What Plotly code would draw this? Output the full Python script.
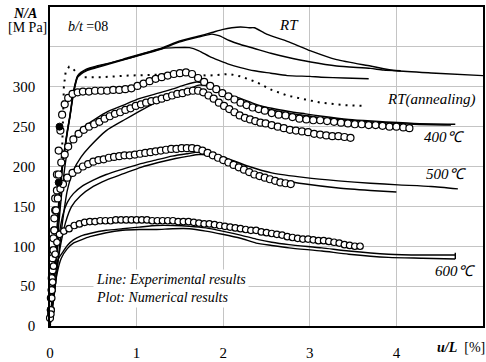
import plotly.graph_objects as go

# ---------------- experimental lines ----------------
rt1_x = [0, 0.04, 0.08, 0.11, 0.14, 0.17, 0.2, 0.23, 0.27, 0.32, 0.42, 0.54, 0.7, 0.92, 1.15, 1.3, 1.49, 1.7, 1.87, 2.0, 2.1, 2.2, 2.3, 2.36, 2.5, 2.74, 3.01, 3.31, 3.7, 4.0, 4.46, 5.0]
rt1_y = [0, 60, 120, 170, 200, 223, 245, 264, 294, 314, 322, 326, 330, 337, 344, 349, 357, 363, 368, 372, 374, 375, 374, 374, 366, 357, 345, 334, 326, 320, 317, 314]
rt2_x = [0, 0.04, 0.08, 0.11, 0.14, 0.17, 0.2, 0.23, 0.27, 0.32, 0.42, 0.54, 0.7, 0.92, 1.15, 1.3, 1.49, 1.7, 1.87, 1.95, 2.07, 2.2, 2.36, 2.55, 2.74, 3.01, 3.31, 3.7, 3.85, 4.05]
rt2_y = [0, 55, 115, 165, 198, 222, 244, 263, 292, 313, 321, 325, 330, 336, 343, 348, 356, 362, 366, 364, 358, 353, 348, 342, 337, 331, 326, 323, 321, 320]
rt3_x = [0, 0.04, 0.08, 0.11, 0.14, 0.17, 0.2, 0.23, 0.27, 0.32, 0.42, 0.54, 0.7, 0.92, 1.1, 1.3, 1.45, 1.61, 1.72, 1.84, 1.95, 2.07, 2.2, 2.36, 2.55, 2.74, 3.0, 3.13, 3.4, 3.68]
rt3_y = [0, 50, 110, 160, 195, 220, 242, 262, 290, 312, 320, 324, 329, 336, 342, 348, 349, 349, 345, 338, 333, 328, 324, 320, 317, 314, 313, 312, 311, 310]
ann_x = [0, 0.05, 0.1, 0.14, 0.15, 0.16, 0.18, 0.22, 0.27, 0.31, 0.38, 0.6, 0.9, 1.2, 1.5, 1.84, 2.07, 2.2, 2.38, 2.56, 2.74, 2.95, 3.13, 3.4, 3.64]
ann_y = [0, 60, 140, 220, 260, 300, 318, 325, 322, 317, 312, 312, 314, 315, 316, 314, 316, 313, 306, 296, 289, 284, 280, 277, 276]
l400a_x = [0, 0.04, 0.08, 0.12, 0.16, 0.2, 0.27, 0.34, 0.46, 0.65, 0.85, 1.03, 1.22, 1.41, 1.55, 1.69, 1.8, 1.9, 2.0, 2.18, 2.38, 2.56, 2.76, 2.95, 3.14, 3.45, 3.71, 4.2, 4.68]
l400a_y = [0, 50, 100, 150, 190, 218, 235, 245, 255, 268, 277, 285, 291, 297, 302, 306, 304, 298, 292, 286, 278, 273, 269, 266, 263, 259, 257, 254, 253]
l400b_x = [0, 0.05, 0.1, 0.15, 0.2, 0.27, 0.36, 0.46, 0.65, 0.85, 1.03, 1.22, 1.41, 1.6, 1.72, 1.82, 1.92, 2.02, 2.18, 2.38, 2.56, 2.76, 2.95, 3.14, 3.45, 3.71, 4.2, 4.63]
l400b_y = [0, 40, 90, 135, 170, 195, 212, 225, 245, 258, 269, 280, 289, 297, 302, 301, 296, 290, 283, 276, 271, 267, 264, 261, 258, 256, 253, 252]
l500a_x = [0, 0.05, 0.1, 0.15, 0.2, 0.27, 0.38, 0.5, 0.65, 0.85, 1.03, 1.22, 1.41, 1.58, 1.72, 1.85, 1.95, 2.1, 2.3, 2.56, 2.95, 3.33, 3.7, 4.02, 4.4, 4.71]
l500a_y = [0, 60, 110, 140, 155, 166, 176, 183, 190, 197, 203, 208, 213, 216, 218, 217, 214, 208, 200, 192, 186, 182, 179, 177, 175, 172]
l500b_x = [0, 0.06, 0.12, 0.18, 0.25, 0.35, 0.5, 0.65, 0.85, 1.05, 1.25, 1.45, 1.6, 1.72, 1.85, 1.95, 2.1, 2.3, 2.56, 2.95, 3.33, 3.7, 4.0]
l500b_y = [0, 55, 100, 130, 150, 163, 175, 183, 191, 199, 205, 210, 213, 215, 214, 210, 203, 194, 185, 178, 173, 170, 168]
l600a_x = [0, 0.03, 0.06, 0.1, 0.15, 0.2, 0.27, 0.36, 0.46, 0.65, 0.84, 1.03, 1.23, 1.42, 1.61, 1.8, 1.99, 2.2, 2.38, 2.56, 2.76, 3.14, 3.45, 3.91, 4.3, 4.68]
l600a_y = [0, 40, 70, 85, 93, 101, 108, 113, 116, 120, 122, 124, 126, 126, 125, 123, 119, 114, 109, 105, 102, 98, 94, 90, 89, 89]
l600b_x = [0, 0.04, 0.08, 0.13, 0.2, 0.27, 0.36, 0.46, 0.65, 0.84, 1.03, 1.23, 1.42, 1.61, 1.8, 1.99, 2.2, 2.38, 2.56, 2.76, 3.14, 3.45, 3.91, 4.3, 4.68]
l600b_y = [0, 35, 65, 85, 97, 104, 108, 112, 117, 120, 121, 121, 122, 122, 119, 115, 110, 104, 101, 98, 94, 90, 86, 85, 84]
tick600_x = [4.68, 4.68]
tick600_y = [84, 92]

# ---------------- numerical results (markers) ----------------
na_x = [0.00, 0.01, 0.02, 0.03, 0.04, 0.05, 0.06, 0.08, 0.10, 0.12, 0.14, 0.17, 0.21, 0.26, 0.32, 0.38, 0.45, 0.52, 0.59, 0.66, 0.73, 0.80, 0.87, 0.94, 1.01, 1.08, 1.15, 1.22, 1.29, 1.36, 1.43, 1.50, 1.57, 1.64, 1.71, 1.78, 1.85, 1.92, 1.99, 2.06, 2.13, 2.20, 2.27, 2.34, 2.41, 2.48, 2.56, 2.64, 2.72, 2.80, 2.88, 2.96, 3.04, 3.12, 3.20, 3.28, 3.36, 3.44, 3.52, 3.60, 3.68, 3.76, 3.84, 3.92, 4.00, 4.08, 4.15]
na_y = [10, 35, 60, 85, 110, 135, 160, 190, 220, 245, 265, 278, 286, 291, 293, 294, 294, 295, 295, 295, 296, 296, 297, 298, 301, 304, 307, 310, 312, 314, 316, 317, 318, 316, 311, 306, 301, 297, 292, 288, 284, 280, 277, 274, 272, 270, 267, 265, 264, 262, 260, 259, 258, 258, 257, 256, 255, 254, 253, 253, 252, 252, 251, 250, 250, 249, 248]
nb_x = [0.01, 0.02, 0.03, 0.04, 0.05, 0.06, 0.08, 0.10, 0.13, 0.17, 0.21, 0.27, 0.33, 0.39, 0.45, 0.51, 0.57, 0.63, 0.69, 0.75, 0.81, 0.87, 0.93, 0.99, 1.05, 1.11, 1.17, 1.23, 1.29, 1.35, 1.41, 1.47, 1.53, 1.59, 1.65, 1.71, 1.77, 1.83, 1.89, 1.95, 2.01, 2.07, 2.13, 2.19, 2.25, 2.31, 2.37, 2.43, 2.49, 2.56, 2.63, 2.70, 2.77, 2.84, 2.91, 2.98, 3.05, 3.12, 3.19, 3.26, 3.33, 3.40, 3.47]
nb_y = [20, 45, 70, 95, 120, 145, 170, 190, 205, 215, 225, 234, 241, 246, 250, 253, 256, 260, 263, 266, 268, 271, 273, 276, 278, 280, 282, 283, 285, 287, 289, 291, 292, 294, 295, 295, 293, 289, 285, 280, 276, 272, 268, 264, 261, 259, 257, 255, 254, 252, 250, 248, 246, 245, 244, 243, 241, 240, 239, 238, 238, 237, 236]
nc_x = [0.01, 0.02, 0.03, 0.04, 0.05, 0.07, 0.09, 0.12, 0.15, 0.20, 0.26, 0.32, 0.38, 0.44, 0.50, 0.56, 0.62, 0.68, 0.74, 0.80, 0.86, 0.92, 0.98, 1.04, 1.10, 1.16, 1.22, 1.28, 1.34, 1.40, 1.46, 1.52, 1.58, 1.64, 1.70, 1.76, 1.82, 1.88, 1.94, 2.00, 2.06, 2.12, 2.18, 2.24, 2.30, 2.36, 2.42, 2.48, 2.54, 2.60, 2.66, 2.72, 2.78]
nc_y = [20, 45, 70, 95, 120, 145, 160, 172, 178, 186, 192, 196, 200, 203, 206, 208, 209, 211, 212, 213, 214, 214, 215, 216, 217, 218, 219, 220, 221, 222, 222, 223, 223, 223, 222, 220, 217, 214, 211, 208, 205, 202, 199, 196, 193, 190, 188, 186, 184, 182, 180, 179, 178]
nd_x = [0.01, 0.02, 0.03, 0.04, 0.06, 0.08, 0.11, 0.16, 0.22, 0.28, 0.34, 0.40, 0.46, 0.52, 0.58, 0.64, 0.70, 0.76, 0.82, 0.88, 0.94, 1.00, 1.06, 1.12, 1.18, 1.24, 1.30, 1.36, 1.42, 1.48, 1.54, 1.60, 1.66, 1.72, 1.78, 1.84, 1.90, 1.96, 2.02, 2.08, 2.14, 2.20, 2.26, 2.32, 2.38, 2.44, 2.50, 2.56, 2.62, 2.68, 2.74, 2.80, 2.86, 2.92, 2.98, 3.04, 3.10, 3.16, 3.22, 3.28, 3.34, 3.40, 3.46, 3.52, 3.58]
nd_y = [15, 35, 55, 75, 90, 105, 115, 119, 122, 126, 128, 130, 131, 131, 132, 132, 132, 133, 133, 133, 133, 133, 133, 133, 132, 132, 132, 132, 132, 131, 131, 131, 130, 129, 128, 128, 127, 126, 125, 124, 123, 122, 121, 120, 120, 118, 117, 116, 115, 114, 112, 111, 110, 109, 109, 108, 107, 107, 106, 105, 104, 102, 101, 100, 100]
filled_x = [0.11, 0.10]
filled_y = [250, 180]

x_ticks = [0, 1, 2, 3, 4]
y_ticks = [0, 50, 100, 150, 200, 250, 300, 350]
y_ticktext = ["0", "50", "100", "150", "200", "250", "300", ""]

SERIF = "Liberation Serif"

fig = go.Figure()

solid = [(rt1_x, rt1_y), (rt2_x, rt2_y), (rt3_x, rt3_y),
         (l400a_x, l400a_y), (l400b_x, l400b_y),
         (l500a_x, l500a_y), (l500b_x, l500b_y),
         (l600a_x, l600a_y), (l600b_x, l600b_y)]
for xs, ys in solid:
    fig.add_trace(go.Scatter(x=xs, y=ys, mode="lines",
                             line=dict(color="black", width=1.4, shape="spline", smoothing=0.6),
                             hoverinfo="skip"))
fig.add_trace(go.Scatter(x=tick600_x, y=tick600_y, mode="lines",
                         line=dict(color="black", width=1.4), hoverinfo="skip"))

fig.add_trace(go.Scatter(x=ann_x, y=ann_y, mode="lines",
                         line=dict(color="black", width=2, dash="2px,5px"),
                         hoverinfo="skip"))

for xs, ys, sz in [(na_x, na_y, 7), (nb_x, nb_y, 7), (nc_x, nc_y, 7), (nd_x, nd_y, 6.5)]:
    fig.add_trace(go.Scatter(x=xs, y=ys, mode="markers", cliponaxis=False,
                             marker=dict(symbol="circle", size=sz, color="white",
                                         line=dict(color="black", width=1.2)),
                             hoverinfo="skip"))

fig.add_trace(go.Scatter(x=filled_x, y=filled_y, mode="markers", cliponaxis=False,
                         marker=dict(symbol="circle", size=7, color="black",
                                     line=dict(color="black", width=1)),
                         hoverinfo="skip"))

ital = dict(family=SERIF, size=15, color="black")
annotations = [
    dict(x=2.76, y=378, text="<i>RT</i>", showarrow=False, font=ital),
    dict(x=4.4, y=284, text="<i>RT(annealing)</i>", showarrow=False, font=ital),
    dict(x=4.56, y=237, text="<i>400℃</i>", showarrow=False, font=ital),
    dict(x=4.58, y=191, text="<i>500℃</i>", showarrow=False, font=ital),
    dict(x=4.68, y=69, text="<i>600℃</i>", showarrow=False, font=ital),
    dict(x=0.18, y=375, text="<i>b/t</i> =08", showarrow=False, xanchor="left",
         font=dict(family=SERIF, size=14, color="black")),
    dict(x=0.5, y=47, xanchor="left", yanchor="middle",
         text="<i>Line: Experimental results</i><br><i>Plot: Numerical results</i>",
         showarrow=False, align="left", bgcolor="white", borderpad=2,
         font=dict(family=SERIF, size=14, color="black")),
    dict(xref="paper", yref="paper", x=-0.057, y=0.981, xanchor="center", yanchor="middle",
         text="<b><i>N/A</i></b>",
         showarrow=False, font=dict(family=SERIF, size=14, color="black")),
    dict(xref="paper", yref="paper", x=-0.053, y=0.935, xanchor="center", yanchor="middle",
         text="[M Pa]",
         showarrow=False, font=dict(family=SERIF, size=14, color="black")),
    dict(xref="paper", yref="paper", x=0.95, y=-0.066, xanchor="center", yanchor="middle",
         text="<b><i>u/L</i></b>  [%]",
         showarrow=False, font=dict(family=SERIF, size=14, color="black")),
]

fig.update_layout(
    width=486, height=362,
    margin=dict(l=50, r=1, t=7, b=31),
    paper_bgcolor="white", plot_bgcolor="white",
    showlegend=False,
    annotations=annotations,
    font=dict(family=SERIF, size=14, color="black"),
    xaxis=dict(range=[0, 5], tickvals=x_ticks, showgrid=True, gridcolor="#c4c4c4",
               gridwidth=1, zeroline=False, showline=True, linecolor="black",
               linewidth=1.6, mirror=True, ticks="", ticklabelstandoff=12,
               tickfont=dict(family=SERIF, size=15, color="black")),
    yaxis=dict(range=[0, 400], tickvals=y_ticks, ticktext=y_ticktext, showgrid=True,
               gridcolor="#c4c4c4", gridwidth=1, zeroline=False, showline=True,
               linecolor="black", linewidth=1.6, mirror=True, ticks="",
               ticklabelstandoff=10,
               tickfont=dict(family=SERIF, size=15, color="black")),
)

fig.write_html("out.html")
